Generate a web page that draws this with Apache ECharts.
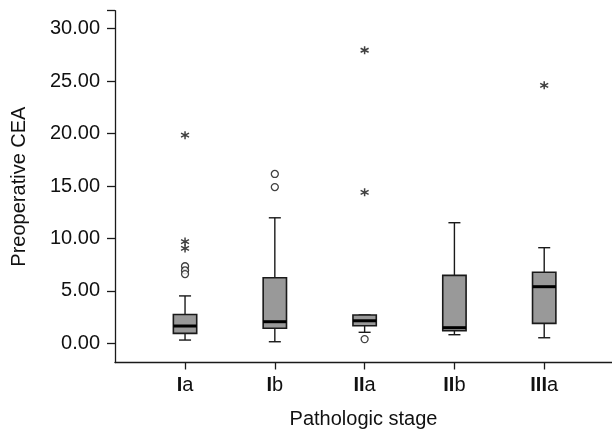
<!DOCTYPE html>
<html>
<head>
<meta charset="utf-8">
<script src="https://cdn.jsdelivr.net/npm/echarts@6/dist/echarts.min.js"></script>
<style>
  html, body { margin: 0; padding: 0; background: #fff; }
  #chart { width: 612px; height: 435px; }
</style>
</head>
<body>
<div id="chart"></div>
<script>
// stages on the x axis
var stages = ['Ia', 'Ib', 'IIa', 'IIb', 'IIIa'];

// box statistics per stage
var mins    = [0.31, 0.15, 1.05, 0.82, 0.53];
var q1s     = [0.95, 1.43, 1.68, 1.20, 1.90];
var medians = [1.65, 2.06, 2.15, 1.49, 5.40];
var q3s     = [2.75, 6.25, 2.70, 6.48, 6.77];
var maxs    = [4.52, 11.97, 2.70, 11.50, 9.12];

// outliers: [stage index, value]
var circleOutliers = [[0, 7.35], [0, 6.95], [0, 6.6], [1, 16.15], [1, 14.9], [2, 0.4]];
var starOutliers = [[0, 19.85], [0, 9.7], [0, 9.05], [2, 27.95], [2, 14.4], [4, 24.6]];

// y tick labels
var yTicks = [0, 5, 10, 15, 20, 25, 30];

var font = "'Liberation Sans', Arial, sans-serif";

var boxData = stages.map(function(s, i) {
	return [i, mins[i], q1s[i], medians[i], q3s[i], maxs[i]];
});

function renderBox(params, api) {
	var x = api.value(0);
	var lo = api.coord([x, api.value(1)]);
	var q1 = api.coord([x, api.value(2)]);
	var med = api.coord([x, api.value(3)]);
	var q3 = api.coord([x, api.value(4)]);
	var hi = api.coord([x, api.value(5)]);
	var band = api.size([1, 0])[0];
	var bw = band * 0.13; // half box width
	var cw = band * 0.067; // half cap width
	var cx = lo[0];
	var line = { stroke: '#1a1a1a', lineWidth: 1.4 };
	return {
		type: 'group',
		children: [
			{ type: 'line', shape: { x1: cx, y1: hi[1], x2: cx, y2: q3[1] }, style: line },
			{ type: 'line', shape: { x1: cx, y1: q1[1], x2: cx, y2: lo[1] }, style: line },
			{ type: 'line', shape: { x1: cx - cw, y1: hi[1], x2: cx + cw, y2: hi[1] }, style: line },
			{ type: 'line', shape: { x1: cx - cw, y1: lo[1], x2: cx + cw, y2: lo[1] }, style: line },
			{
				type: 'rect',
				shape: { x: cx - bw, y: q3[1], width: bw * 2, height: q1[1] - q3[1] },
				style: { fill: '#999999', stroke: '#1a1a1a', lineWidth: 1.6 }
			},
			{ type: 'line', shape: { x1: cx - bw, y1: med[1], x2: cx + bw, y2: med[1] }, style: { stroke: '#000', lineWidth: 3 } }
		]
	};
}

var chart = echarts.init(document.getElementById('chart'));

var option = {
	animation: false,
	grid: { left: 115, right: 0, top: 10.7, bottom: 72.5 },
	xAxis: {
		type: 'value',
		min: -0.78,
		max: 4.755,
		splitLine: { show: false },
		axisLine: { onZero: false, lineStyle: { color: '#1a1a1a', width: 1.3 } },
		axisTick: { customValues: [0, 1, 2, 3, 4], length: 7, lineStyle: { color: '#1a1a1a', width: 1.3 } },
		axisLabel: {
			customValues: [0, 1, 2, 3, 4],
			margin: 13,
			formatter: function(v) {
				var m = stages[Math.round(v)].match(/^(I+)(.*)$/);
				return '{r|' + m[1] + '}{s|' + m[2] + '}';
			},
			rich: {
				r: { fontFamily: font, fontSize: 20, fontWeight: 'bold', color: '#111' },
				s: { fontFamily: font, fontSize: 20, color: '#111' }
			}
		},
		name: 'Pathologic stage',
		nameLocation: 'middle',
		nameGap: 47,
		nameTextStyle: { fontFamily: font, fontSize: 20, color: '#111' }
	},
	yAxis: {
		type: 'value',
		min: -1.83,
		max: 31.72,
		splitLine: { show: false },
		axisLine: { onZero: false, lineStyle: { color: '#1a1a1a', width: 1.3 } },
		axisTick: { customValues: yTicks.concat([31.72]), length: 8, lineStyle: { color: '#1a1a1a', width: 1.3 } },
		axisLabel: {
			customValues: yTicks,
			margin: 15,
			fontFamily: font,
			fontSize: 20,
			color: '#111',
			formatter: function(v) { return v.toFixed(2); }
		},
		name: 'Preoperative CEA',
		nameLocation: 'middle',
		nameGap: 86,
		nameTextStyle: { fontFamily: font, fontSize: 20, color: '#111' }
	},
	series: [
		{
			type: 'custom',
			renderItem: renderBox,
			encode: { x: 0, y: [1, 2, 3, 4, 5] },
			data: boxData
		},
		{
			type: 'scatter',
			data: circleOutliers,
			symbol: 'circle',
			symbolSize: 7,
			itemStyle: { color: '#fff', borderColor: '#111', borderWidth: 1.3 }
		},
		{
			type: 'scatter',
			data: starOutliers,
			symbol: 'path://M0,-5L0,5M-4.33,-2.5L4.33,2.5M-4.33,2.5L4.33,-2.5',
			symbolSize: 8,
			itemStyle: { color: 'transparent', borderColor: '#111', borderWidth: 1.5 }
		}
	]
};

chart.setOption(option);
</script>
</body>
</html>
